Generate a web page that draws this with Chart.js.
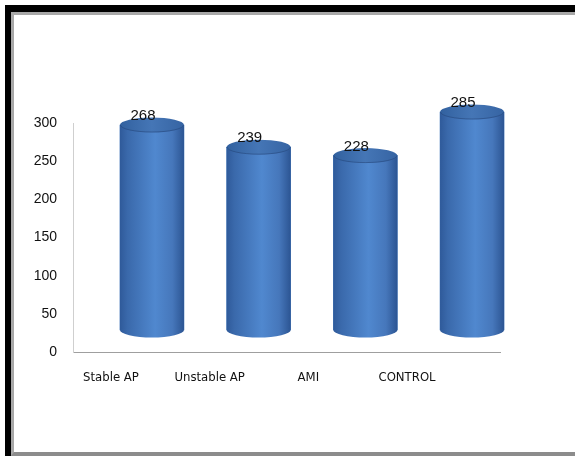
<!DOCTYPE html>
<html>
<head>
<meta charset="utf-8">
<script src="https://cdn.jsdelivr.net/npm/chart.js@4.4.1/dist/chart.umd.min.js"></script>
<style>
  html, body { margin: 0; padding: 0; background: #fff; overflow: hidden; }
  #page { position: relative; width: 575px; height: 456px; overflow: hidden; }
  .outer { position: absolute; left: 5px; top: 5px; width: 600px; height: 460px;
           border-left: 6px solid #000; border-top: 7px solid #000; }
  .inner { position: absolute; left: 11px; top: 12px; width: 600px; height: 437px;
           border-left: 3px solid #a8a8a8; border-top: 3px solid #a8a8a8; border-bottom: 4px solid #8c8c8c; }
  canvas { position: absolute; left: 0; top: 0; }
</style>
</head>
<body>
<div id="page">
  <div class="outer"></div>
  <div class="inner"></div>
  <canvas id="chart" width="575" height="456"></canvas>
</div>
<script>
// data
const categories = ["Stable AP", "Unstable AP", "AMI", "CONTROL"]
const values = [268, 239, 228, 285]
const yTicks = [0, 50, 100, 150, 200, 250, 300]

// the 3D cylinders sit back and up from the front axis plane,
// so bars get their own hidden axes shifted against the visible ones
const CAP_RY = 7.5

function bodyGradient(ctx, x, rx) {
  const g = ctx.createLinearGradient(x - rx, 0, x + rx, 0)
  g.addColorStop(0, "#2f5a9a")
  g.addColorStop(0.12, "#3a69ab")
  g.addColorStop(0.55, "#5088cf")
  g.addColorStop(0.82, "#4677bb")
  g.addColorStop(1, "#2c5593")
  return g
}

const cylinders = {
  id: "cylinders",
  afterDatasetsDraw(chart) {
    const ctx = chart.ctx
    const meta = chart.getDatasetMeta(0)
    meta.data.forEach((bar, i) => {
      const { x, y, base, width } = bar.getProps(["x", "y", "base", "width"], true)
      if (![x, y, base, width].every(Number.isFinite)) return
      const rx = width / 2
      ctx.save()
      // body drawn here too so every bar gets its own gradient
      ctx.fillStyle = bodyGradient(ctx, x, rx)
      ctx.fillRect(x - rx, y, width, base - y)
      // rounded bottom
      ctx.beginPath()
      ctx.ellipse(x, base, rx, CAP_RY, 0, 0, Math.PI)
      ctx.fill()
      // top cap
      const g = ctx.createLinearGradient(x - rx, 0, x + rx, 0)
      g.addColorStop(0, "#32619f")
      g.addColorStop(0.5, "#4576b6")
      g.addColorStop(1, "#3664a3")
      ctx.fillStyle = g
      ctx.beginPath()
      ctx.ellipse(x, y, rx, CAP_RY, 0, 0, Math.PI * 2)
      ctx.fill()
      ctx.strokeStyle = "rgba(30,60,110,0.45)"
      ctx.lineWidth = 1
      ctx.beginPath()
      ctx.ellipse(x, y, rx - 0.5, CAP_RY - 0.5, 0, 0, Math.PI)
      ctx.stroke()
      // value label
      ctx.fillStyle = "#111"
      ctx.font = '15px "Liberation Sans", Arial, sans-serif'
      ctx.textAlign = "center"
      ctx.textBaseline = "middle"
      ctx.fillText(String(values[i]), x - 9, y - 9)
      ctx.restore()
    })
  }
}

new Chart(document.getElementById("chart"), {
  type: "bar",
  data: {
    datasets: [{
      data: values.map((v, i) => ({ x: i, y: v })),
      xAxisID: "x2",
      yAxisID: "y2",
      barThickness: 64,
      borderWidth: 0,
      clip: false,
      backgroundColor: "#4a7ebf"
    }]
  },
  options: {
    responsive: false,
    devicePixelRatio: 1,
    animation: false,
    layout: { padding: { top: 123, right: 75, bottom: 0, left: 0 } },
    plugins: { legend: { display: false }, tooltip: { enabled: false } },
    scales: {
      x: {
        type: "linear",
        position: "bottom",
        min: -0.385,
        max: 3.942,
        offset: false,
        afterFit: (s) => { s.height = 104 },
        afterBuildTicks: (s) => { s.ticks = categories.map((_, i) => ({ value: i })) },
        grid: { display: false, drawTicks: false, offset: false },
        border: { display: true, color: "#9f9f9f", width: 1 },
        ticks: {
          padding: 18,
          maxRotation: 0,
          autoSkip: false,
          color: "#111",
          font: { family: '"Liberation Sans Narrow", "DejaVu Sans Condensed", Arial, sans-serif', size: 13 },
          callback: (v) => categories[v] ?? ""
        }
      },
      y: {
        type: "linear",
        position: "left",
        min: 0,
        max: 300,
        afterFit: (s) => { s.width = 73 },
        afterBuildTicks: (s) => { s.ticks = yTicks.map((v) => ({ value: v })) },
        grid: { display: false, drawTicks: false },
        border: { display: true, color: "#cfcfcf", width: 1 },
        ticks: {
          padding: 16,
          color: "#111",
          font: { family: '"Liberation Sans", Arial, sans-serif', size: 14 }
        }
      },
      x2: {
        type: "linear",
        display: false,
        offset: false,
        min: -0.740,
        max: 3.262,
        grid: { offset: false }
      },
      y2: {
        type: "linear",
        display: false,
        min: -28.8,
        max: 270.6
      }
    }
  },
  plugins: [cylinders]
})
</script>
</body>
</html>
